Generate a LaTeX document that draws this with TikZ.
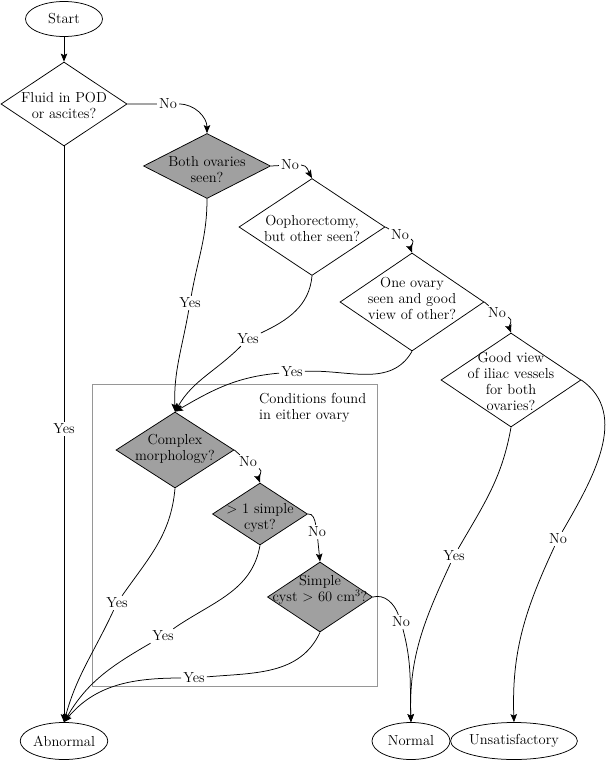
\documentclass[tikz,border=0pt]{standalone}
\usetikzlibrary{shapes.geometric,arrows.meta}
\definecolor{dgray}{RGB}{160,160,160}
\definecolor{boxgray}{RGB}{150,150,150}
\tikzset{
  dia/.style={diamond, draw, line width=0.75pt, inner sep=0pt},
  gdia/.style={dia, fill=dgray},
  term/.style={ellipse, draw, line width=0.75pt, inner sep=0pt},
  txt/.style={align=center, inner sep=0pt},
  lbl/.style={inner sep=2pt},
  edge/.style={line width=0.75pt},
  arr/.style={edge, -{Stealth[length=8pt,width=6.5pt,inset=1.5pt]}}
}
\begin{document}
\begin{tikzpicture}[x=1pt,y=1pt,font=\fontsize{14.5}{16}\selectfont]
\useasboundingbox (0,0) rectangle (606,-761);
% frame
\draw[boxgray, line width=0.9pt] (92,-384) rectangle (377,-686);
\node[txt, align=left, anchor=north west] (cond) at (259,-393) {Conditions found\\in either ovary};
% terminals
\node[term, minimum width=77pt, minimum height=35pt] (start) at (64,-19) {Start};
\node[term, minimum width=77pt, minimum height=37pt] (abnormal) at (64,-741) {Abnormal};
\node[term, minimum width=78pt, minimum height=37pt] (normal) at (411,-741) {Normal};
\node[term, minimum width=102pt, minimum height=37pt] (unsat) at (514,-741) {Unsatisfactory};
% decisions
\node[dia, minimum width=126pt, minimum height=84pt] (fluid) at (64,-104) {};
\node[txt] (tfluid) at (64,-105) {Fluid in POD\\or ascites?};
\node[gdia, minimum width=127pt, minimum height=65pt] (both) at (207,-166) {};
\node[txt] (tboth) at (207,-170) {Both ovaries\\seen?};
\node[dia, minimum width=146pt, minimum height=97pt] (ooph) at (312,-227) {};
\node[txt] (tooph) at (312,-228) {Oophorectomy,\\but other seen?};
\node[dia, minimum width=144pt, minimum height=98pt] (one) at (412,-302) {};
\node[txt] (tone) at (412,-298) {One ovary\\seen and good\\view of other?};
\node[dia, minimum width=140pt, minimum height=94pt] (good) at (511,-380) {};
\node[txt] (tgood) at (511,-381) {Good view\\of iliac vessels\\for both\\ovaries?};
\node[gdia, minimum width=118pt, minimum height=76pt] (complex) at (175,-450) {};
\node[txt] (tcomplex) at (175,-449) {Complex\\morphology?};
\node[gdia, minimum width=95pt, minimum height=62pt] (gt) at (260,-514) {};
\node[txt] (tgt) at (260,-518) {\textgreater{} 1 simple\\cyst?};
\node[gdia, minimum width=105pt, minimum height=70pt] (simple) at (320,-597) {};
\node[txt] (tsimple) at (320,-590) {Simple\\cyst \textgreater{} 60 cm\textsuperscript{3}?};
% labels
\node[lbl] (no1) at (168,-104) {No};
\node[lbl] (no2) at (290,-165) {No};
\node[lbl] (no3) at (400,-235) {No};
\node[lbl] (no4) at (497,-313) {No};
\node[lbl] (no5) at (248,-462) {No};
\node[lbl] (no6) at (317,-532) {No};
\node[lbl] (no7) at (401,-622) {No};
\node[lbl] (no8) at (558,-539) {No};
\node[lbl] (yes1) at (64,-429) {Yes};
\node[lbl] (yes2) at (190,-303) {Yes};
\node[lbl] (yes3) at (248,-339) {Yes};
\node[lbl] (yes4) at (292,-372) {Yes};
\node[lbl] (yes5) at (117,-603) {Yes};
\node[lbl] (yes6) at (163,-636) {Yes};
\node[lbl] (yes7) at (194,-678) {Yes};
\node[lbl] (yes8) at (454,-556) {Yes};
% connectors
\draw[arr] (start) -- (fluid.north);
\draw[arr] (fluid.east) -- (no1) to[out=0,in=90] (both.north);
\draw[arr] (both.east) -- (no2) to[out=0,in=120] (ooph.north);
\draw[arr] (ooph.east) -- (no3) to[out=-20,in=110] (one.north);
\draw[arr] (one.east) -- (no4) to[out=-20,in=110] (good.north);
\draw[arr] (fluid.south) -- (yes1) -- (abnormal.north);
\draw[arr] (both.south) to[out=-90,in=80] (yes2) to[out=-100,in=92] (complex.north);
\draw[arr] (ooph.south) to[out=-95,in=25] (yes3) to[out=-135,in=60] (complex.north);
\draw[arr] (one.south) to[out=-120,in=3] (yes4) to[out=185,in=30] (complex.north);
\draw[arr] (complex.east) -- (no5) to[out=-30,in=110] (gt.north);
\draw[arr] (gt.east) to[out=10,in=100] (no6) -- (simple.north);
\draw[arr] (complex.south) to[out=-95,in=55] (yes5) to[out=-115,in=75] (abnormal.north);
\draw[arr] (gt.south) to[out=-100,in=35] (yes6) to[out=-150,in=60] (abnormal.north);
\draw[arr] (simple.south) to[out=-115,in=5] (yes7) to[out=180,in=50] (abnormal.north);
\draw[arr] (simple.east) to[out=15,in=110] (no7) to[out=-75,in=92] (normal.north);
\draw[arr] (good.south) to[out=-100,in=60] (yes8) to[out=-115,in=92] (normal.north);
\draw[arr] (good.east) to[out=-35,in=60] (no8) to[out=-115,in=92] (unsat.north);
\end{tikzpicture}
\end{document}
